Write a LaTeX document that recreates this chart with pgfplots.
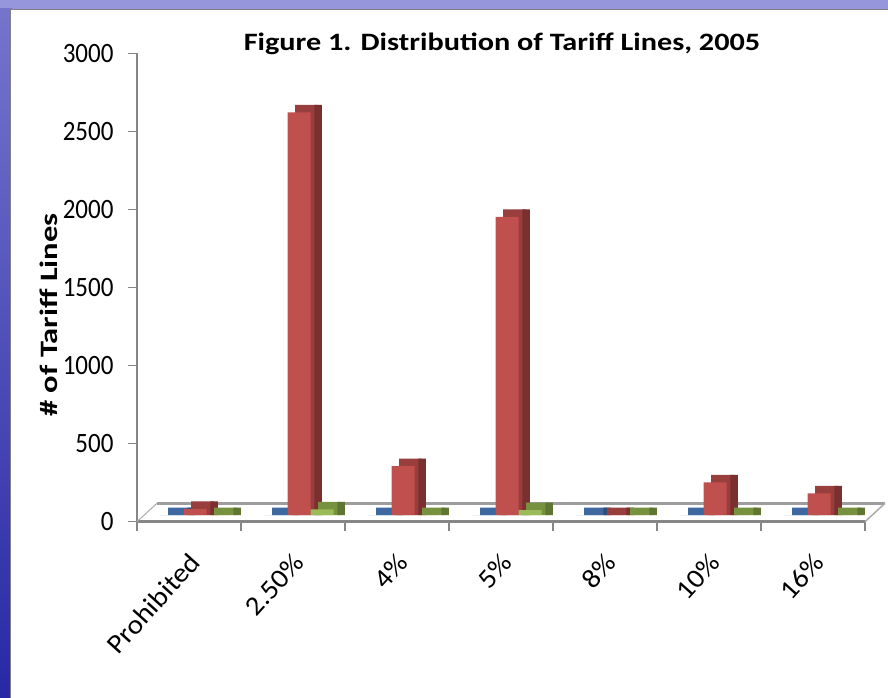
\documentclass[border=0pt]{standalone}
\usepackage{pgfplots}
\pgfplotsset{compat=1.18}
\usepackage{pgfplotstable}
\usepackage{fontspec}
\setmainfont{Carlito}

\definecolor{bluF}{RGB}{79,129,189}
\definecolor{bluT}{RGB}{62,104,158}
\definecolor{bluS}{RGB}{45,78,120}
\definecolor{redF}{RGB}{192,80,77}
\definecolor{redT}{RGB}{152,62,60}
\definecolor{redS}{RGB}{122,48,46}
\definecolor{grnF}{RGB}{155,187,89}
\definecolor{grnT}{RGB}{118,146,62}
\definecolor{grnS}{RGB}{95,118,50}
\definecolor{axgray}{RGB}{134,134,134}
\definecolor{bgtop}{RGB}{150,150,220}
\definecolor{bgmid}{RGB}{66,66,182}
\definecolor{bgbot}{RGB}{40,40,165}

\pgfplotstableread{
x blue red green
0 0 40 0
1 0 2580 38
2 0 315 0
3 0 1910 33
4 0 0 0
5 0 210 0
6 0 140 0
}\data

\begin{document}
\begin{tikzpicture}[x=1pt,y=1pt]
\useasboundingbox (0,0) rectangle (888,697);
\clip (0,0) rectangle (888,697);
\fill[bgtop] (0,680) rectangle (888,697);
\shade[top color=bgtop!60!bgmid, middle color=bgmid, bottom color=bgbot] (0,0) rectangle (12,688);
\filldraw[fill=white, draw=gray, line width=1.5pt] (10.5,-10) rectangle (900,687.5);
\node[font=\fontsize{25}{30}\selectfont\bfseries, anchor=base, inner sep=0pt, xscale=1.21] at (502,646.3) {Figure 1. Distribution of Tariff Lines, 2005};
\node[font=\fontsize{25}{30}\selectfont\bfseries, anchor=base, inner sep=0pt, rotate=90, xscale=1.3] at (57,382) {\# of Tariff Lines};
\begin{axis}[
  at={(137pt,175.3pt)}, anchor=south west,
  scale only axis, width=728pt, height=468.4pt,
  xmin=-0.5, xmax=6.5, ymin=0, ymax=3000,
  clip=false,
  axis x line*=bottom, axis y line*=left,
  x axis line style={line width=2.5pt, draw=axgray},
  y axis line style={line width=1.8pt, draw=axgray},
  tick style={line width=1.5pt, draw=axgray},
  tick align=outside, major tick length=9pt,
  ytick={0,500,...,3000},
  xtick={-0.5,0.5,...,6.5},
  xticklabels={Prohibited,2.50\%,4\%,5\%,8\%,10\%,16\%,},
  ticklabel style={font=\fontsize{25}{30}\selectfont},
  /pgf/number format/assume math mode=true,
  /pgf/number format/1000 sep={},
  yticklabel style={xshift=-11pt, yscale=1.12},
  xticklabel style={font=\fontsize{27}{30}\selectfont, xshift=60pt, yshift=-24pt, rotate=48, xscale=1.08, anchor=east},
  ybar, bar width=23pt,
  every axis plot/.append style={draw=none, yshift=6.5pt},
]
% floor
\draw[axgray!80, line width=2.5pt] ([shift={(20pt,18.4pt)}]axis cs:-0.5,0) -- ([shift={(20pt,18.4pt)}]axis cs:6.5,0);
\draw[axgray!70, line width=1pt] (axis cs:-0.5,0) -- ([shift={(20pt,18.4pt)}]axis cs:-0.5,0);
\draw[axgray!70, line width=1.5pt] (axis cs:6.5,0) -- ([shift={(20pt,18.4pt)}]axis cs:6.5,0);
% blue
\addplot[fill=bluT, bar shift=-9.5pt] table[x=x, y expr=\thisrow{blue}+48] {\data};
\addplot[fill=bluS, bar shift=2pt, bar width=7.5pt] table[x=x, y expr=\thisrow{blue}+48] {\data};
\addplot[fill=bluF, bar shift=-17pt] table[x=x, y=blue] {\data};
% red
\addplot[fill=redT, bar shift=13.5pt] table[x=x, y expr=\thisrow{red}+48] {\data};
\addplot[fill=redS, bar shift=25pt, bar width=7.5pt] table[x=x, y expr=\thisrow{red}+48] {\data};
\addplot[fill=redF, bar shift=6pt] table[x=x, y=red] {\data};
% green
\addplot[fill=grnT, bar shift=36.5pt] table[x=x, y expr=\thisrow{green}+48] {\data};
\addplot[fill=grnS, bar shift=48pt, bar width=7.5pt] table[x=x, y expr=\thisrow{green}+48] {\data};
\addplot[fill=grnF, bar shift=29pt] table[x=x, y=green] {\data};
\end{axis}
\end{tikzpicture}
\end{document}
